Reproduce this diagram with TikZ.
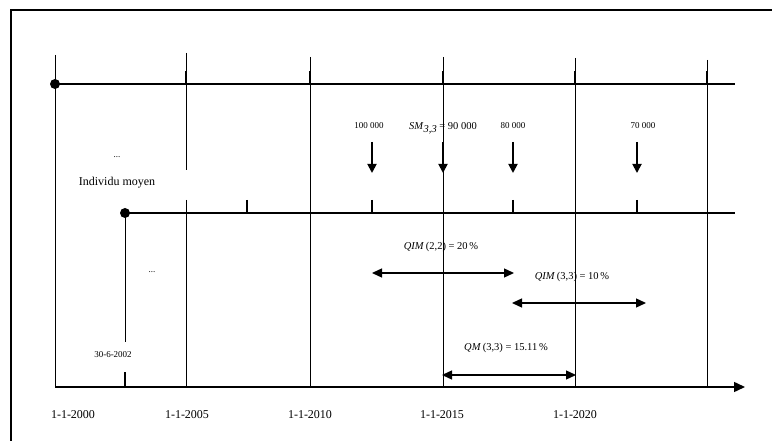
\documentclass[tikz,border=0pt]{standalone}
\usepackage{fontspec}
\setmainfont{Liberation Serif}
\usetikzlibrary{arrows.meta}
\begin{document}
\begin{tikzpicture}[x=1pt,y=-1pt,
  frame/.style={line width=1.2pt},
  vline/.style={line width=0.7pt},
  hline/.style={line width=1.5pt},
  tick/.style={line width=1.3pt},
  dot/.style={circle,fill=black,inner sep=0pt,minimum size=10pt},
  downarr/.style={line width=1.8pt,-{Triangle[length=9pt,width=9pt]}},
  dblarr/.style={line width=1.3pt,{Triangle[length=10pt,width=9pt]}-{Triangle[length=10pt,width=9pt]}},
  axlab/.style={font=\fontsize{12}{14}\selectfont,inner sep=1pt},
  small/.style={font=\fontsize{9}{11}\selectfont,inner sep=1pt},
  qlab/.style={font=\fontsize{10.5}{12}\selectfont,inner sep=1pt}]
\useasboundingbox (0,0) rectangle (772,441);
% frame (scanned border)
\draw[frame] (11,441) -- (11,10) -- (772,10);
% vertical grid lines
\coordinate (v0t) at (55,55);  \coordinate (v0b) at (55,387);
\coordinate (v1t) at (186,53); \coordinate (v1m) at (186,170);
\coordinate (v1n) at (186,200); \coordinate (v1b) at (186,387);
\coordinate (v2t) at (310,57); \coordinate (v2b) at (310,387);
\coordinate (v3t) at (443,57); \coordinate (v3b) at (443,387);
\coordinate (v4t) at (575,58); \coordinate (v4b) at (575,387);
\coordinate (v5t) at (707,60); \coordinate (v5b) at (707,387);
\draw[vline] (v0t) -- (v0b);
\draw[vline] (v1t) -- (v1m);
\draw[vline] (v1n) -- (v1b);
\draw[vline] (v2t) -- (v2b);
\draw[vline] (v3t) -- (v3b);
\draw[vline] (v4t) -- (v4b);
\draw[vline] (v5t) -- (v5b);
% top line
\node[dot] (d1) at (55,84) {};
\coordinate (t1e) at (735,84);
\draw[hline] (d1.center) -- (t1e);
\foreach \x/\n in {186/a,310/b,443/c,575/d,707/e}{
  \coordinate (tt\n) at (\x,71); \coordinate (tb\n) at (\x,84);
  \draw[tick] (tt\n) -- (tb\n);
}
% second line (individu moyen)
\node[dot] (d2) at (125,213) {};
\coordinate (t2e) at (735,213);
\draw[hline] (d2.center) -- (t2e);
\foreach \x/\n in {247/a,372/b,513/c,637/d}{
  \coordinate (st\n) at (\x,200); \coordinate (sb\n) at (\x,213);
  \draw[tick] (st\n) -- (sb\n);
}
\coordinate (d2low) at (125,342);
\draw[vline] (d2.center) -- (d2low);
\node[small] (birth) at (113,355) {30-6-2002};
\coordinate (bt) at (125,372); \coordinate (bb) at (125,387);
\draw[tick] (bt) -- (bb);
% bottom axis
\coordinate (ax0) at (55,387); \coordinate (ax1) at (745,387);
\draw[hline,-{Triangle[length=11pt,width=10pt]}] (ax0) -- (ax1);
% axis labels
\node[axlab] (l2000) at (73,415) {1-1-2000};
\node[axlab] (l2005) at (187,415) {1-1-2005};
\node[axlab] (l2010) at (310,415) {1-1-2010};
\node[axlab] (l2015) at (442,415) {1-1-2015};
\node[axlab] (l2020) at (575,415) {1-1-2020};
% left texts
\node[small] (dots1) at (117,157) {...};
\node[axlab] (indiv) at (117,183) {Individu moyen};
\node[small] (dots2) at (152,272) {...};
% amounts and down arrows
\node[small] (m1) at (369,126) {100 000};
\node[qlab] (m2) at (443,128) {\textit{SM}\raisebox{-3pt}{\textit{3,3}} = 90 000};
\node[small] (m3) at (513,126) {80 000};
\node[small] (m4) at (643,126) {70 000};
\coordinate (a1t) at (372,142); \coordinate (a1b) at (372,173);
\coordinate (a2t) at (443,142); \coordinate (a2b) at (443,173);
\coordinate (a3t) at (513,142); \coordinate (a3b) at (513,173);
\coordinate (a4t) at (637,142); \coordinate (a4b) at (637,173);
\draw[downarr] (a1t) -- (a1b);
\draw[downarr] (a2t) -- (a2b);
\draw[downarr] (a3t) -- (a3b);
\draw[downarr] (a4t) -- (a4b);
% interval arrows
\node[qlab] (q1) at (441,247) {\textit{QIM}\,(2,2) = 20\,\%};
\coordinate (q1a) at (372,273); \coordinate (q1b) at (514,273);
\draw[dblarr] (q1a) -- (q1b);
\node[qlab] (q2) at (572,277) {\textit{QIM}\,(3,3) = 10\,\%};
\coordinate (q2a) at (512,303); \coordinate (q2b) at (646,303);
\draw[dblarr] (q2a) -- (q2b);
\node[qlab] (q3) at (506,348) {\textit{QM}\,(3,3) = 15.11\,\%};
\coordinate (q3a) at (442,375); \coordinate (q3b) at (576,375);
\draw[dblarr] (q3a) -- (q3b);
\end{tikzpicture}
\end{document}
